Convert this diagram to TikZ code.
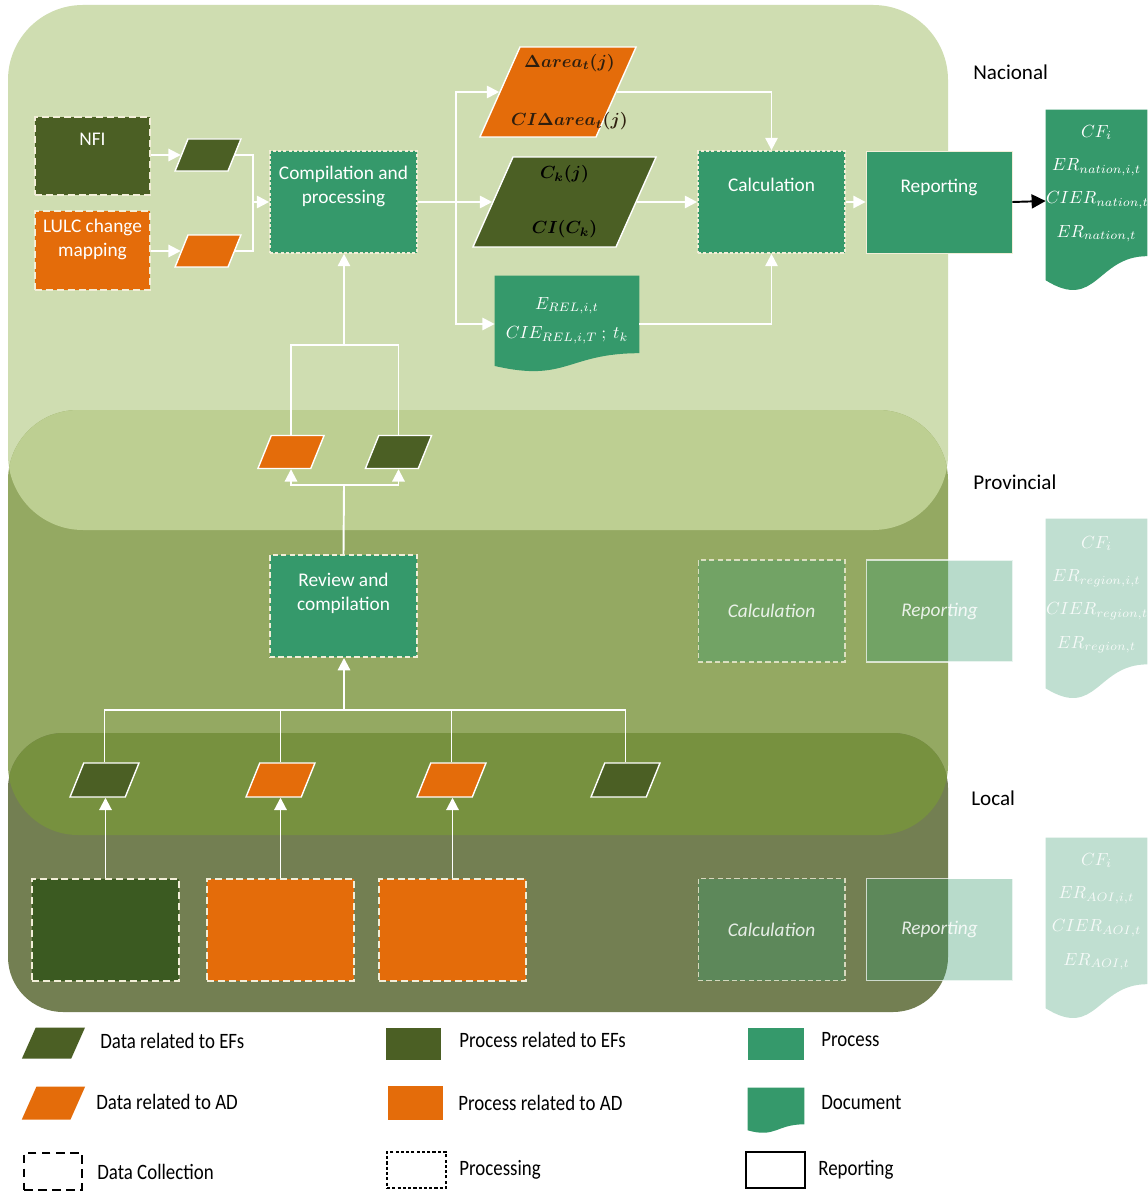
\documentclass[tikz,border=0pt]{standalone}
\usepackage{fontspec}
\setmainfont{Carlito}
\usepackage{amsmath}
\usepackage{graphicx}
\usetikzlibrary{positioning, arrows.meta, calc, shapes.geometric, backgrounds}
\definecolor{natband}{HTML}{CFDDB1}
\definecolor{natprov}{HTML}{BDCF92}
\definecolor{provband}{HTML}{94A962}
\definecolor{provloc}{HTML}{77913F}
\definecolor{locband}{HTML}{737F52}
\definecolor{procgreen}{HTML}{35996B}
\definecolor{efgreen}{HTML}{4B5F24}
\definecolor{efdark}{HTML}{3B5A21}
\definecolor{adorange}{HTML}{E46C0A}
\definecolor{cream}{HTML}{F2EED8}
\definecolor{inkbrown}{HTML}{2E1E0E}
\newcommand{\topbox}[4]{\parbox[c][#2cm][t]{#1cm}{\centering\vspace*{#3cm}#4\par}}
\newcommand{\pbody}[3]{\parbox[c][#2cm][c]{#1cm}{\centering\leavevmode#3}}
\newcommand{\cond}[1]{\scalebox{0.86}[1]{#1}}
\newcommand{\nowide}[1]{\makebox[0pt]{#1}}
\newcommand{\docfill}[2]{\fill[#2] (#1.north west) -- (#1.north east)
  -- ($(#1.north east)!0.802!(#1.south east)$)
  .. controls ($(#1.north)!0.802!(#1.south)$) and ($(#1.north)!1.107!(#1.south)$)
  .. ($(#1.north west)!0.934!(#1.south west)$) -- cycle;}

\begin{document}
\begin{tikzpicture}[x=0.02cm, y=-0.02cm,
  every node/.style={font=\fontsize{11}{13.5}\selectfont, text=white, inner sep=0pt},
  proc/.style={rectangle, fill=procgreen},
  procef/.style={rectangle, fill=efgreen},
  procad/.style={rectangle, fill=adorange},
  doc/.style={rectangle, font=\fontsize{10}{19}\selectfont},
  collect/.style={draw=cream, line width=1.1pt, dash pattern=on 4pt off 2.2pt},
  processing/.style={draw=cream, line width=1pt, dash pattern=on 1.8pt off 1.2pt},
  review/.style={draw=cream, line width=1.1pt, dash pattern=on 3pt off 1.8pt},
  data/.style={trapezium, trapezium left angle=68, trapezium right angle=112,
    inner sep=0pt, draw=white, line width=0.8pt},
  dataef/.style={data, fill=efgreen},
  dataad/.style={data, fill=adorange},
  bigdata/.style={trapezium left angle=66, trapezium right angle=114,
    font=\fontsize{10}{12}\selectfont\boldmath},
  faded/.style={rectangle, fill=procgreen, fill opacity=0.35, text opacity=0.85,
    minimum width=2.94cm, minimum height=2.04cm, font=\fontsize{11}{13}\selectfont\itshape},
  link/.style={draw=white, line width=1.1pt},
  arr/.style={link, -{Triangle[width=7pt,length=7pt]}},
  level/.style={text=black, anchor=west, font=\fontsize{12}{14}\selectfont},
  legtext/.style={text=black, anchor=west, font=\fontsize{12.5}{15}\selectfont}
]
\useasboundingbox (0,0) rectangle (1147,1192);
\begin{scope}[on background layer]
  \fill[white] (0,0) rectangle (1147,1192);
  \fill[natband, rounded corners=1.5cm] (8,5) rectangle (948,530);
  \fill[provband, rounded corners=1.4cm] (8,410) rectangle (948,835);
  \begin{scope}
    \clip[rounded corners=1.5cm] (8,5) rectangle (948,530);
    \fill[natprov, rounded corners=1.4cm] (8,410) rectangle (948,835);
  \end{scope}
  \fill[locband, rounded corners=1.1cm] (8,733) rectangle (948,1012);
  \begin{scope}
    \clip[rounded corners=1.4cm] (8,410) rectangle (948,835);
    \fill[provloc, rounded corners=1.1cm] (8,733) rectangle (948,1012);
  \end{scope}
\end{scope}

\node[level] (lnat) at (973,72) {Nacional};
\node[level] (lprov) at (973,482) {Provincial};
\node[level] (lloc) at (971,798) {Local};

\node[procef, collect] (nfi) at (92.5,156) {\topbox{2.3}{1.56}{0.32}{NFI}};
\node[procad, collect] (lulc) at (92.5,250.5) {\topbox{2.3}{1.58}{0.16}{LULC change\\mapping}};
\node[dataef] (dnfi) at (208,155) {\pbody{0.8}{0.64}{}};
\node[dataad] (dlulc) at (208,251) {\pbody{0.8}{0.64}{}};
\node[proc, processing] (comp) at (343.5,202) {\topbox{2.94}{2.04}{0.3}{Compilation and\\processing}};
\node[dataad, bigdata, text=inkbrown] (darea) at (558,92)
  {\pbody{1.52}{1.8}{\nowide{\hspace{0.46cm}$\Delta area_t(j)$}\\[0.75cm]\nowide{\hspace{0.46cm}$CI\Delta area_t(j)$}}};
\node[dataef, bigdata, text=black] (dck) at (564.5,202)
  {\pbody{2.06}{1.8}{\nowide{$C_k(j)$}\\[0.68cm]\nowide{$CI(C_k)$}}};
\node[doc] (erel) at (567,324) {\topbox{2.88}{1.92}{0.42}{$E_{REL,i,t}$\\[-2pt]$CIE_{REL,i,T}\ ;\ t_k$}};
\node[proc, processing] (calc) at (771.5,202) {\topbox{2.94}{2.04}{0.54}{Calculation}};
\node[proc, draw=cream, line width=0.5pt] (rep) at (939,202) {\topbox{2.92}{2.04}{0.56}{Reporting}};
\node[doc] (docN) at (1096.5,201)
  {\topbox{2.02}{3.64}{0.3}{$CF_i$\\$ER_{nation,i,t}$\\$CIER_{nation,t}$\\$ER_{nation,t}$}};

\node[dataad] (pdad) at (291,452) {\pbody{0.79}{0.66}{}};
\node[dataef] (pdef) at (398.5,452) {\pbody{0.79}{0.66}{}};
\node[proc, review] (rev) at (343.5,606) {\topbox{2.94}{2.04}{0.36}{Review and\\compilation}};
\node[faded, draw=cream, draw opacity=0.8, line width=0.6pt, dash pattern=on 3pt off 1.8pt] (pcalc) at (771.5,611) {Calculation};
\node[faded, draw=white, draw opacity=0.7, line width=0.6pt] (prep) at (939.5,611) {Reporting};
\node[doc, text opacity=0.85] (docP) at (1096.5,609.5)
  {\topbox{2.02}{3.62}{0.34}{$CF_i$\\$ER_{region,i,t}$\\$CIER_{region,t}$\\$ER_{region,t}$}};

\node[dataef] (ld1) at (104.5,780) {\pbody{0.83}{0.68}{}};
\node[dataad] (ld2) at (280.5,780) {\pbody{0.83}{0.68}{}};
\node[dataad] (ld3) at (451.5,780) {\pbody{0.83}{0.68}{}};
\node[dataef] (ld4) at (625.5,780) {\pbody{0.83}{0.68}{}};
\node[collect, fill=efdark, minimum width=2.94cm, minimum height=2.04cm] (lb1) at (105.5,930) {};
\node[collect, fill=adorange, minimum width=2.94cm, minimum height=2.04cm] (lb2) at (280.5,930) {};
\node[collect, fill=adorange, minimum width=2.94cm, minimum height=2.04cm] (lb3) at (452.5,930) {};
\node[faded, draw=cream, draw opacity=0.8, line width=0.6pt, dash pattern=on 3pt off 1.8pt] (lcalc) at (771.5,929.5) {Calculation};
\node[faded, draw=white, draw opacity=0.7, line width=0.6pt] (lrep) at (939.5,929.5) {Reporting};
\node[doc, text opacity=0.85] (docL) at (1096.5,929)
  {\topbox{2.02}{3.64}{0.3}{$CF_i$\\$ER_{AOI,i,t}$\\$CIER_{AOI,t}$\\$ER_{AOI,t}$}};

\coordinate (cin) at (253,202);
\coordinate (cout) at (456,202);
\coordinate (cup) at (344,345);
\coordinate (crev) at (344,485);
\coordinate (cloc) at (344,710);

\draw[arr] (nfi.east |- dnfi.west) -- (dnfi.west);
\draw[arr] (lulc.east |- dlulc.west) -- (dlulc.west);
\draw[link] (dnfi.east) -| (cin);
\draw[link] (dlulc.east) -| (cin);
\draw[arr] (cin) -- (comp.west);
\draw[link] (comp.east) -- (cout);
\draw[arr] (cout) |- (darea.west);
\draw[arr] (cout) -- (dck.west);
\draw[arr] (cout) |- (erel.west);
\draw[arr] (darea.east) -| (calc.north);
\draw[arr] (dck.east) -- (calc.west);
\draw[arr] (erel.east) -| (calc.south);
\draw[arr] (calc.east) -- (rep.west);
\draw[-{Triangle[width=8pt,length=8pt]}, line width=1.1pt, black] (rep.east) -- (docN.west);

\draw[link] (pdad.north) |- (cup);
\draw[link] (pdef.north) |- (cup);
\draw[arr] (cup) -- (cup |- comp.south);
\draw[link] (rev.north) -- (crev);
\draw[arr] (crev) -| (pdad.south);
\draw[arr] (crev) -| (pdef.south);

\foreach \d in {ld1,ld2,ld3,ld4}
  \draw[link] (\d.north) |- (cloc);
\draw[arr] (cloc) -- (cloc |- rev.south);
\foreach \b/\d in {lb1/ld1,lb2/ld2,lb3/ld3}
  \draw[arr] (\b.north) -- (\b.north |- \d.south);

\node[dataef, draw=none, trapezium left angle=66, trapezium right angle=114] (kdef) at (53.5,1043) {\pbody{0.71}{0.62}{}};
\node[legtext] (tdef) at (100,1041) {\cond{Data related to EFs}};
\node[dataad, draw=none, trapezium left angle=66, trapezium right angle=114] (kdad) at (53.5,1103) {\pbody{0.68}{0.66}{}};
\node[legtext] (tdad) at (96,1102) {\cond{Data related to AD}};
\node[procef, minimum width=1.1cm, minimum height=0.64cm] (kpef) at (413.5,1044) {};
\node[legtext] (tpef) at (459,1040) {\cond{Process related to EFs}};
\node[procad, minimum width=1.1cm, minimum height=0.68cm] (kpad) at (415.5,1103) {};
\node[legtext] (tpad) at (458,1103) {\cond{Process related to AD}};
\node[proc, minimum width=1.12cm, minimum height=0.64cm] (kproc) at (776,1044) {};
\node[legtext] (tproc) at (821,1040) {\cond{Process}};
\node[doc, minimum width=1.12cm, minimum height=0.9cm] (kdoc) at (776,1110.5) {};
\node[legtext] (tdoc) at (821,1103) {\cond{Document}};
\node[draw=black, line width=1.1pt, dash pattern=on 5pt off 3pt, minimum width=1.16cm, minimum height=0.74cm] (kcol) at (53,1171.5) {};
\node[legtext] (tcol) at (97,1172) {\cond{Data Collection}};
\node[draw=black, line width=1.1pt, dash pattern=on 1.8pt off 1.2pt, minimum width=1.18cm, minimum height=0.72cm] (kpro) at (416.5,1170) {};
\node[legtext] (tpro) at (459,1170) {\cond{Processing}};
\node[draw=black, line width=1.6pt, minimum width=1.18cm, minimum height=0.72cm] (krep) at (775.5,1170) {};
\node[legtext] (trep) at (818,1170) {\cond{Reporting}};

\begin{scope}[on background layer]
  \docfill{erel}{procgreen}
  \docfill{docN}{procgreen}
  \docfill{docP}{procgreen, fill opacity=0.31}
  \docfill{docL}{procgreen, fill opacity=0.31}
  \docfill{kdoc}{procgreen}
\end{scope}
\end{tikzpicture}
\end{document}
